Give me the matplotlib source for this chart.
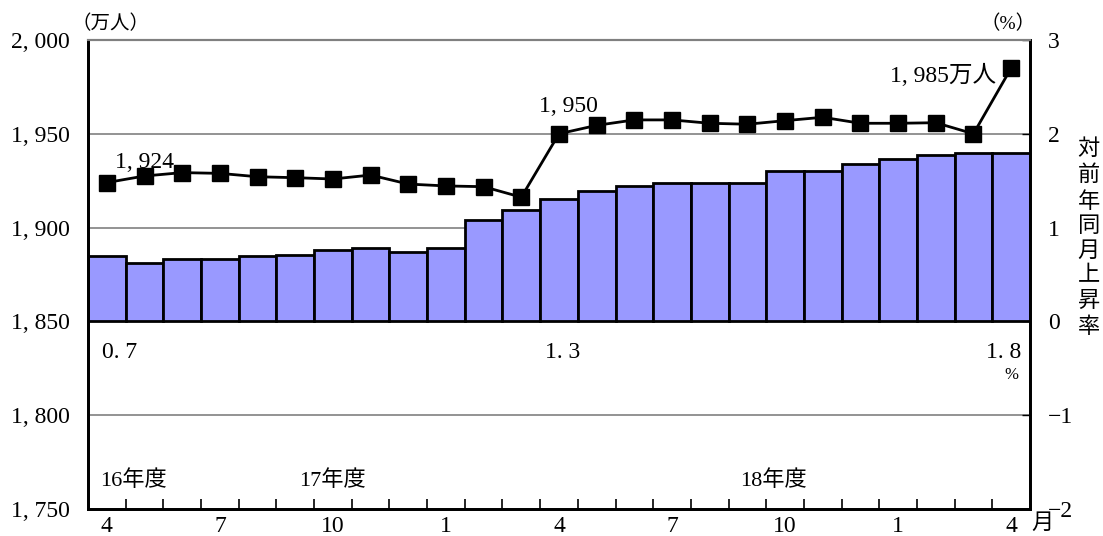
import numpy as np
import matplotlib.pyplot as plt
from matplotlib.ticker import FixedLocator

FONTS = ['Liberation Serif', 'Noto Sans CJK JP']
plt.rcParams['font.family'] = FONTS

# monthly series, April 2004 .. April 2006
months = ['4', '5', '6', '7', '8', '9', '10', '11', '12', '1', '2', '3',
          '4', '5', '6', '7', '8', '9', '10', '11', '12', '1', '2', '3', '4']
month_labels = ['4', '7', '10', '1', '4', '7', '10', '1', '4']

# employed persons (万人)
persons = [1924, 1927.5, 1929.3, 1928.9, 1927.1, 1926.6, 1925.9, 1928.0,
           1923.2, 1922.2, 1921.8, 1916.2, 1950, 1954.5, 1957.4, 1957.4,
           1955.6, 1955.1, 1957.0, 1958.8, 1955.6, 1955.6, 1955.9, 1950, 1985]

# year-on-year change (%)
growth = [0.7, 0.62, 0.66, 0.66, 0.70, 0.71, 0.76, 0.78, 0.74, 0.78,
          1.08, 1.19, 1.3, 1.39, 1.44, 1.47, 1.47, 1.48, 1.60, 1.60,
          1.68, 1.73, 1.77, 1.79, 1.8]

fiscal_years = ['16年度', '17年度', '18年度']
fiscal_pos = [0.7, 6.0, 17.7]

x = np.arange(len(months))

fig = plt.figure(figsize=(11.03, 5.36), dpi=100)
ax = fig.add_axes([0.0798, 0.0504, 0.854, 0.875])
ax2 = ax.twinx()

# bars on the right-hand (%) axis, line on top on the left axis
ax.set_zorder(ax2.get_zorder() + 1)
ax.patch.set_visible(False)

for g in [2, 1, -1]:
    ax2.axhline(g, color='#808080', lw=1.2, zorder=0)
ax2.bar(x, growth, width=1.0, color='#9999ff', edgecolor='black',
        linewidth=2, zorder=2)
ax2.set_ylim(-2, 3)
ax2.set_yticks([-2, -1, 0, 1, 2, 3])
ax2.set_yticklabels(['\u22122', '\u22121', '0', '1', '2', '3'], fontsize=17)
ax2.tick_params(axis='y', direction='in', length=6, pad=13, width=1)

ax.plot(x, persons, color='black', lw=2, marker='s', markersize=11,
        markerfacecolor='black', zorder=5)
ax.set_ylim(1750, 2000)
ax.set_xlim(-0.5, len(months) - 0.5)
ax.set_yticks([1750, 1800, 1850, 1900, 1950, 2000])
ax.set_yticklabels(['1, 750', '1, 800', '1, 850', '1, 900', '1, 950', '2, 000'],
                   fontsize=17)
ax.tick_params(axis='y', direction='in', length=0, pad=13)

ax.set_xticks(x[::3])
ax.set_xticklabels(month_labels, fontsize=17)
ax.xaxis.set_minor_locator(FixedLocator(np.arange(0.5, len(months) - 1, 1)))
ax.tick_params(axis='x', which='major', length=0, pad=5)
ax.tick_params(axis='x', which='minor', direction='in', length=7, width=1.2)
ax2.tick_params(axis='x', which='both', length=0)

for a in (ax, ax2):
    a.spines['top'].set_color('#808080')
    a.spines['top'].set_linewidth(1.5)
    for s in ('left', 'right', 'bottom'):
        a.spines[s].set_linewidth(2)

# axis units and titles
fig.text(0.065, 0.955, '（万人）', fontsize=14, ha='left', va='center')
fig.text(0.914, 0.955, '（%）', fontsize=14, ha='center', va='center')
fig.text(0.945, 0.022, '月', fontsize=16, ha='center', va='center')
fig.text(0.987, 0.555, '\n'.join('対前年同月上昇率'), fontsize=16,
         ha='center', va='center', linespacing=1.35)

# value labels
ax.text(1.0, persons[0] + 5, '1, 924', fontsize=17, ha='center', va='bottom')
ax.text(12.25, persons[12] + 9, '1, 950', fontsize=17, ha='center', va='bottom')
ax.text(22.2, persons[24] - 4, '1, 985万人', fontsize=17, ha='center',
        va='center')
ax2.text(0.35, -0.33, f'{growth[0]:.1f}'.replace('.', '. '), fontsize=17,
         ha='center', va='center')
ax2.text(12.1, -0.33, f'{growth[12]:.1f}'.replace('.', '. '), fontsize=17,
         ha='center', va='center')
ax2.text(23.8, -0.33, f'{growth[24]:.1f}'.replace('.', '. '), fontsize=17,
         ha='center', va='center')
ax2.text(24.0, -0.57, '%', fontsize=12, ha='center', va='center')

for name, pos in zip(fiscal_years, fiscal_pos):
    ax.text(pos, 1765, name, fontsize=16, ha='center', va='center')

fig.savefig('out.png', dpi=100)
